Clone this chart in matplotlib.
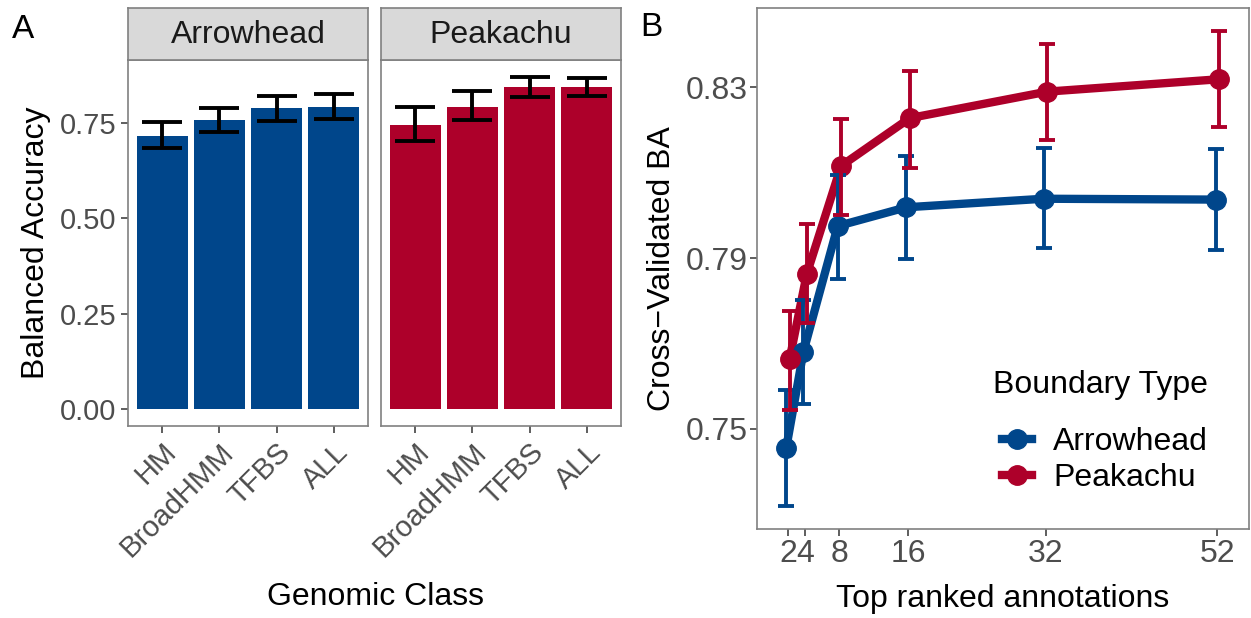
import matplotlib
matplotlib.use("Agg")
import matplotlib.pyplot as plt
from matplotlib.lines import Line2D
import numpy as np

plt.rcParams['font.family'] = ['Liberation Sans', 'DejaVu Sans']

# ---------------- data ----------------
classes = ["HM", "BroadHMM", "TFBS", "ALL"]
panels = ["Arrowhead", "Peakachu"]
arrow_ba = [0.717, 0.758, 0.788, 0.791]
arrow_lo = [0.684, 0.727, 0.754, 0.760]
arrow_hi = [0.752, 0.788, 0.821, 0.826]
peak_ba = [0.745, 0.793, 0.843, 0.843]
peak_lo = [0.702, 0.759, 0.819, 0.820]
peak_hi = [0.791, 0.833, 0.871, 0.869]

top_n = [2, 4, 8, 16, 32, 52]
arrow_cv = [0.7454, 0.7680, 0.7975, 0.8019, 0.8039, 0.8037]
arrow_cv_lo = [0.7319, 0.7559, 0.7852, 0.7898, 0.7923, 0.7920]
arrow_cv_hi = [0.7591, 0.7801, 0.8095, 0.8139, 0.8158, 0.8156]
peak_cv = [0.7663, 0.7863, 0.8116, 0.8228, 0.8290, 0.8319]
peak_cv_lo = [0.7544, 0.7748, 0.8002, 0.8112, 0.8176, 0.8208]
peak_cv_hi = [0.7777, 0.7979, 0.8226, 0.8338, 0.8402, 0.8433]

BLUE = "#00468B"
RED = "#AD002A"
TICKC = "#4D4D4D"
BORDER = "#808080"

W, H = 1251, 618
fig = plt.figure(figsize=(W / 100, H / 100), dpi=100)


def frac(x0, y0, x1, y1):
    return [x0 / W, 1 - y1 / H, (x1 - x0) / W, (y1 - y0) / H]


def style_axes(ax):
    for s in ax.spines.values():
        s.set_color(BORDER)
        s.set_linewidth(1.2)
    ax.tick_params(colors="#333333", labelcolor=TICKC, length=5, width=1.1)


# ---------------- Panel A ----------------
panel_x = [(128, 368), (381, 621)]
vals = [(arrow_ba, arrow_lo, arrow_hi, BLUE), (peak_ba, peak_lo, peak_hi, RED)]
xpos = np.arange(1, len(classes) + 1)
for i, ((x0, x1), (ba, lo, hi, col)) in enumerate(zip(panel_x, vals)):
    ax = fig.add_axes(frac(x0, 60, x1, 426))
    ba = np.array(ba); lo = np.array(lo); hi = np.array(hi)
    ax.bar(xpos, ba, width=0.9, color=col, edgecolor="none", zorder=2)
    ax.errorbar(xpos, ba, yerr=[ba - lo, hi - ba], fmt="none", ecolor="black",
                elinewidth=2.8, capsize=14.5, capthick=2.8, zorder=3)
    ax.set_xlim(0.4, 4.6)
    ax.set_ylim(-0.0435, 0.915)
    ax.set_yticks([0.0, 0.25, 0.5, 0.75])
    ax.set_xticks(xpos)
    ax.set_xticklabels(classes, rotation=45, ha="right", va="top",
                       rotation_mode="anchor", fontsize=21)
    style_axes(ax)
    if i == 0:
        ax.set_yticklabels(["0.00", "0.25", "0.50", "0.75"], fontsize=21)
        ax.set_ylabel("Balanced Accuracy", fontsize=23, labelpad=6)
    else:
        ax.tick_params(axis="y", left=False, labelleft=False)
    # strip
    sax = fig.add_axes(frac(x0, 8, x1, 60))
    sax.set_xticks([]); sax.set_yticks([])
    sax.set_facecolor("#D9D9D9")
    for s in sax.spines.values():
        s.set_color(BORDER)
        s.set_linewidth(1.2)
    sax.text(0.5, 0.48, panels[i], ha="center", va="center", fontsize=23,
             color="#1A1A1A", transform=sax.transAxes)

fig.text(375 / W, 1 - 597 / H, "Genomic Class", ha="center", va="center", fontsize=23)
fig.text(12 / W, 1 - 30 / H, "A", ha="left", va="center", fontsize=24)

# ---------------- Panel B ----------------
axb = fig.add_axes(frac(757, 8, 1249, 529))
dodge = 0.2
series = [
    ("Arrowhead", arrow_cv, arrow_cv_lo, arrow_cv_hi, BLUE, -dodge),
    ("Peakachu", peak_cv, peak_cv_lo, peak_cv_hi, RED, dodge),
]
xs = np.array(top_n, dtype=float)
for name, y, lo, hi, col, off in series:
    axb.plot(xs + off, y, color=col, lw=6, solid_capstyle="round", zorder=2)
for name, y, lo, hi, col, off in series:
    axb.plot(xs + off, y, "o", color=col, markersize=14, zorder=3)
for name, y, lo, hi, col, off in series:
    y = np.array(y); lo = np.array(lo); hi = np.array(hi)
    axb.errorbar(xs + off, y, yerr=[y - lo, hi - y], fmt="none", ecolor=col,
                 elinewidth=2.8, capsize=6, capthick=2.8, zorder=4)

axb.set_xlim(-1.6, 55.7)
axb.set_ylim(0.7265, 0.8486)
axb.set_xticks(top_n)
axb.set_xticklabels([str(v) for v in top_n], fontsize=23)
axb.set_yticks([0.75, 0.79, 0.83])
axb.set_yticklabels(["0.75", "0.79", "0.83"], fontsize=23)
style_axes(axb)
axb.tick_params(pad=2)
axb.set_xlabel("Top ranked annotations", fontsize=23, labelpad=11)
axb.set_ylabel("Cross\u2212Validated BA", fontsize=23, labelpad=6)

handles = [Line2D([0], [0], color=c, lw=6, marker="o", markersize=14)
           for c in (BLUE, RED)]
leg = axb.legend(handles, ["Arrowhead", "Peakachu"],
                 loc="upper left",
                 bbox_to_anchor=((986 - 757) / 492, 1 - (411 - 8) / 521),
                 frameon=False, fontsize=23, borderpad=0,
                 handlelength=0.95, handletextpad=0.65, labelspacing=0.2)
fig.text(993 / W, 1 - 385 / H, "Boundary Type", ha="left", va="center", fontsize=23)

fig.text(640 / W, 1 - 28 / H, "B", ha="left", va="center", fontsize=24)

fig.savefig("out.png", dpi=100)
